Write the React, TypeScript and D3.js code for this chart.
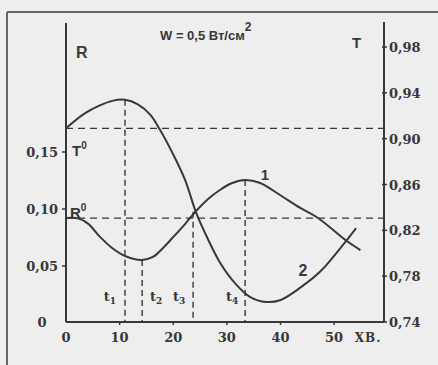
import React from 'react';
import * as d3 from 'd3';

// curve 2 : T(t)
const tTimes = [0, 3.5, 6.3, 8.6, 11.0, 13.4, 15.7, 17.5, 19.8, 22.2, 24.3, 26.5, 28.7, 31.5, 34.3, 37.3, 39.9, 43.7, 47.4, 52.1, 54.1];
const tValues = [0.909, 0.922, 0.929, 0.933, 0.934, 0.930, 0.921, 0.908, 0.888, 0.864, 0.835, 0.812, 0.792, 0.774, 0.762, 0.7575, 0.759, 0.770, 0.784, 0.810, 0.822];

// curve 1 : R(t)
const rTimes = [0, 2.2, 4.1, 6.3, 8.6, 11.0, 14.2, 16.2, 18.1, 20.0, 22.2, 24.1, 26.5, 28.7, 31.0, 33.4, 36.2, 39.9, 43.7, 47.0, 52.1, 54.9];
const rValues = [0.092, 0.0918, 0.0872, 0.0758, 0.0658, 0.0588, 0.0553, 0.0579, 0.0658, 0.0754, 0.0868, 0.0974, 0.1088, 0.1167, 0.1228, 0.1254, 0.1228, 0.1123, 0.1009, 0.0921, 0.0728, 0.064];

const T0 = 0.909;
const R0 = 0.092;

// t1..t4 markers: time, value at top of the drop line, which axis
const markTimes = [11.0, 14.2, 23.7, 33.4];
const markTops = [0.934, 0.0553, 0.0975, 0.1254];
const markAxis = ['T', 'R', 'R', 'R'];
const markLabelX = [-2.8, 2.6, -2.6, -2.4];

const xTicks = [0, 10, 20, 30, 40, 50];
const rTicks = [0.05, 0.10, 0.15];
const tTicks = [0.98, 0.94, 0.90, 0.86, 0.82, 0.78, 0.74];

const fmt = (v: number) => v.toFixed(2).replace('.', ',');

export default function App() {
  const W = 438, H = 365;
  const xMax = 59.3;
  const x = d3.scaleLinear().domain([0, xMax]).range([66, 384]);
  const yR = d3.scaleLinear().domain([0, 0.15]).range([323, 152]);
  const yT = d3.scaleLinear().domain([0.74, 0.98]).range([322, 47]);
  const y0 = 322;

  const lineT = d3.line<number>().x((d, i) => x(tTimes[i])).y(d => yT(d)).curve(d3.curveCatmullRom.alpha(0.5));
  const lineR = d3.line<number>().x((d, i) => x(rTimes[i])).y(d => yR(d)).curve(d3.curveCatmullRom.alpha(0.5));

  const ink = '#383838';
  const serif = '"DejaVu Serif", "Liberation Serif", serif';
  const sans = '"Liberation Sans", Arial, sans-serif';
  const dash = '7,5';

  return (
    <svg width={W} height={H} style={{ position: 'absolute', left: 0, top: 0 }}>
      <rect width={W} height={H} fill="#eeeeee" />
      {/* page frame */}
      <line x1={7} y1={12} x2={W} y2={12} stroke="#666" strokeWidth={2} />
      <line x1={7} y1={12} x2={7} y2={H} stroke="#666" strokeWidth={2} />

      {/* dashed reference lines */}
      <line x1={x(0)} x2={x(xMax)} y1={yT(T0)} y2={yT(T0)} stroke={ink} strokeWidth={1.4} strokeDasharray={dash} />
      <line x1={x(0)} x2={x(xMax)} y1={yR(R0)} y2={yR(R0)} stroke={ink} strokeWidth={1.4} strokeDasharray={dash} />
      {markTimes.map((t, i) => {
        const top = markAxis[i] === 'T' ? yT(markTops[i]) : yR(markTops[i]);
        return (
          <g key={i}>
            <line x1={x(t)} x2={x(t)} y1={top} y2={y0} stroke={ink} strokeWidth={1.4} strokeDasharray="6,4" />
            <text x={x(t + markLabelX[i])} y={301} fontFamily={serif} fontWeight="bold" fontSize={13} fill={ink} textAnchor="middle">
              t<tspan fontSize={9} dy={3}>{i + 1}</tspan>
            </text>
          </g>
        );
      })}

      {/* curves */}
      <path d={lineT(tValues) || ''} fill="none" stroke={ink} strokeWidth={2} />
      <path d={lineR(rValues) || ''} fill="none" stroke={ink} strokeWidth={2} />

      {/* axes */}
      <line x1={x(0)} x2={x(0)} y1={23} y2={y0} stroke={ink} strokeWidth={2} />
      <line x1={x(0)} x2={x(xMax)} y1={y0} y2={y0} stroke={ink} strokeWidth={2} />
      <line x1={x(xMax)} x2={x(xMax)} y1={22} y2={y0} stroke={ink} strokeWidth={2} />

      {xTicks.map(v => (
        <g key={v}>
          {v > 0 && <line x1={x(v)} x2={x(v)} y1={y0} y2={y0 + 3} stroke={ink} strokeWidth={1.5} />}
          <text x={x(v)} y={342} textAnchor="middle" fontFamily={serif} fontWeight="bold" fontSize={13} fill={ink}>{v}</text>
        </g>
      ))}
      <text x={368} y={342} textAnchor="middle" fontFamily={serif} fontWeight="bold" fontSize={12} letterSpacing={1} fill={ink}>ХВ.</text>

      {rTicks.map(v => (
        <g key={v}>
          <line x1={x(0) - 4} x2={x(0)} y1={yR(v)} y2={yR(v)} stroke={ink} strokeWidth={1.5} />
          <text x={x(0) - 8} y={yR(v) + 5} textAnchor="end" fontFamily={serif} fontWeight="bold" fontSize={13} fill={ink}>{fmt(v)}</text>
        </g>
      ))}
      <text x={42} y={y0 + 5} textAnchor="middle" fontFamily={serif} fontWeight="bold" fontSize={13} fill={ink}>0</text>

      {tTicks.map(v => (
        <g key={v}>
          <line x1={x(xMax) - 2} x2={x(xMax) + 3} y1={yT(v)} y2={yT(v)} stroke={ink} strokeWidth={1.5} />
          <text x={x(xMax) + 5} y={yT(v) + 5} fontFamily={serif} fontWeight="bold" fontSize={13} fill={ink}>{fmt(v)}</text>
        </g>
      ))}

      {/* labels */}
      <text x={76} y={58} fontFamily={sans} fontWeight="bold" fontSize={16} fill={ink}>R</text>
      <text x={352} y={48} fontFamily={sans} fontWeight="bold" fontSize={15} fill={ink}>T</text>
      <text x={160} y={40} fontFamily={sans} fontWeight="bold" fontSize={13} fill={ink}>
        W = 0,5 Вт/см<tspan fontSize={12} dy={-9}>2</tspan>
      </text>
      <text x={72} y={156} fontFamily={sans} fontWeight="bold" fontSize={15} fill={ink}>
        T<tspan fontSize={10} dy={-7}>0</tspan>
      </text>
      <text x={70} y={218} fontFamily={sans} fontWeight="bold" fontSize={15} fill={ink}>
        R<tspan fontSize={10} dy={-7}>0</tspan>
      </text>
      <text x={265} y={180} textAnchor="middle" fontFamily={sans} fontWeight="bold" fontSize={15} fill={ink}>1</text>
      <text x={303} y={276} textAnchor="middle" fontFamily={sans} fontWeight="bold" fontSize={16} fill={ink}>2</text>
    </svg>
  );
}
